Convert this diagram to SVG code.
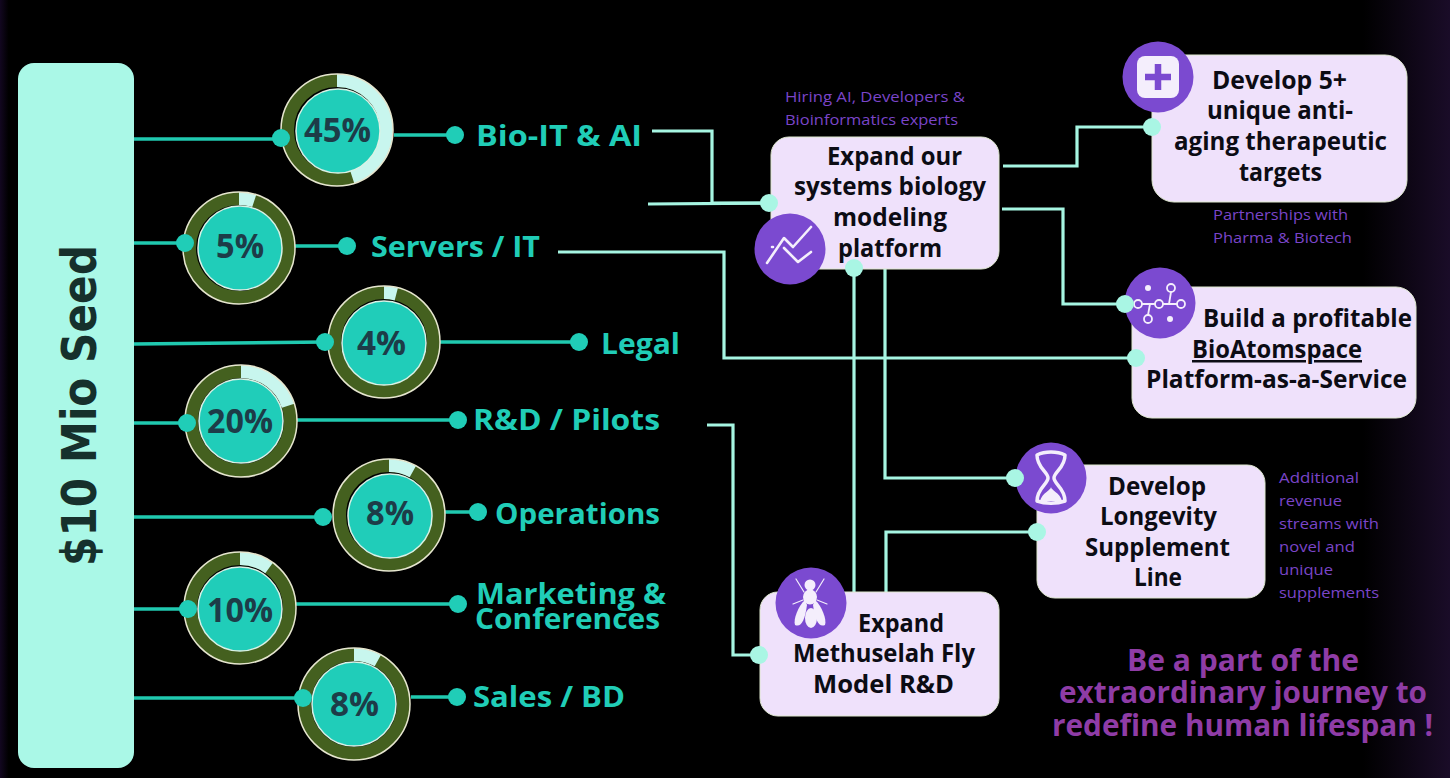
<svg xmlns="http://www.w3.org/2000/svg" width="1450" height="778" viewBox="0 0 1450 778">
<style>
text{font-family:"Open Sans","Noto Sans","Liberation Sans",sans-serif}
.lab{font-size:29px;font-weight:700;fill:#20cdb7}
.pct{font-size:34px;font-weight:700;fill:#1d3c48}
.card{fill:#efe1fb;stroke:#dfe8d0;stroke-width:1}
.t{font-size:25px;font-weight:700;fill:#0c0c14}
.note{font-size:15px;font-weight:400;fill:#7a45c8}
.cta{font-size:30px;font-weight:700;fill:#8f3ca6}
.ic{fill:#7b4ad0}
.base{fill:none;stroke:#44601f;stroke-width:13}
.rim{fill:none;stroke:#e6e6cf;stroke-width:1.5}
.wedge{fill:none;stroke:#c8f6ee;stroke-width:13}
.core{fill:#20cdb9;stroke:#d8f3e6;stroke-width:1.5}
.bl{fill:none;stroke:#20c9b0;stroke-width:3.5}
.ml{fill:none;stroke:#a6f5e2;stroke-width:3.2}
.bd{fill:#20cdb7}
.md{fill:#a9f6e4}
.w{fill:none;stroke:#f4eefc;stroke-width:2.6;stroke-linecap:round;stroke-linejoin:round}
.wf{fill:#f4eefc}
</style>
<defs>
<linearGradient id="bg" x1="0" y1="0" x2="1" y2="0">
<stop offset="0" stop-color="#120720"/><stop offset="0.006" stop-color="#000"/><stop offset="0.94" stop-color="#000"/><stop offset="1" stop-color="#1a0c28"/>
</linearGradient>
</defs>
<rect width="1450" height="778" fill="url(#bg)"/>

<g id="connectors">
<path class="bl" d="M134 139H281M394 135H455"/>
<path class="bl" d="M134 243H185M295 246H347"/>
<path class="bl" d="M134 344L325 342M440 342H579"/>
<path class="bl" d="M134 423H187M296 420H458"/>
<path class="bl" d="M134 517H323M445 512H478"/>
<path class="bl" d="M134 609H188M296 604H458"/>
<path class="bl" d="M134 698H303M411 697H457"/>
<path class="ml" d="M652 131H712V203H770"/>
<path class="ml" d="M648 204L770 203"/>
<path class="ml" d="M558 252H724V358H1136"/>
<path class="ml" d="M707 425H733V655H760"/>
<path class="ml" d="M854 268V592"/>
<path class="ml" d="M885 269V478H1015"/>
<path class="ml" d="M886 592V532H1037"/>
<path class="ml" d="M1003 166H1077V127H1152"/>
<path class="ml" d="M1002 209H1063V304H1125"/>
</g>

<g id="seed">
<rect x="18" y="63" width="116" height="705" rx="16" fill="#aaf8e7"/>
<text transform="translate(96 566) rotate(-90)" textLength="321" lengthAdjust="spacingAndGlyphs" style="font-family:'DejaVu Sans',sans-serif;font-size:48px;font-weight:700;fill:#16302c">$10 Mio Seed</text>
</g>

<g id="d45">
<circle class="base" cx="337" cy="130" r="49.5"/>
<circle class="wedge" cx="337" cy="130" r="49.5" pathLength="100" stroke-dasharray="45 55" transform="rotate(-90 337 130)"/>
<circle class="rim" cx="337" cy="130" r="56"/>
<circle class="core" cx="338" cy="131" r="42"/>
<text class="pct" x="304" y="142" textLength="67" lengthAdjust="spacingAndGlyphs">45%</text>
<circle class="bd" cx="281" cy="138" r="9"/><circle class="bd" cx="455" cy="135" r="9"/>
<text class="lab" x="476" y="146" textLength="166" lengthAdjust="spacingAndGlyphs">Bio-IT &amp; AI</text>
</g>
<g id="d5">
<circle class="base" cx="239" cy="248" r="49.5"/>
<circle class="wedge" cx="239" cy="248" r="49.5" pathLength="100" stroke-dasharray="5 95" transform="rotate(-90 239 248)"/>
<circle class="rim" cx="239" cy="248" r="56"/>
<circle class="core" cx="240" cy="248" r="42"/>
<text class="pct" x="216" y="258" textLength="48" lengthAdjust="spacingAndGlyphs">5%</text>
<circle class="bd" cx="185" cy="243" r="9"/><circle class="bd" cx="347" cy="246" r="9"/>
<text class="lab" x="371" y="257" textLength="169" lengthAdjust="spacingAndGlyphs">Servers / IT</text>
</g>
<g id="d4">
<circle class="base" cx="384" cy="342" r="49.5"/>
<path class="wedge" d="M384 292.5A49.5 49.5 0 0 1 396.3 294.1"/>
<circle class="rim" cx="384" cy="342" r="56"/>
<circle class="core" cx="384" cy="343" r="42"/>
<text class="pct" x="357" y="355" textLength="49" lengthAdjust="spacingAndGlyphs">4%</text>
<circle class="bd" cx="325" cy="342" r="9"/><circle class="bd" cx="579" cy="342" r="9"/>
<text class="lab" x="601" y="354" textLength="79" lengthAdjust="spacingAndGlyphs">Legal</text>
</g>
<g id="d20">
<circle class="base" cx="241" cy="421" r="49.5"/>
<circle class="wedge" cx="241" cy="421" r="49.5" pathLength="100" stroke-dasharray="20 80" transform="rotate(-90 241 421)"/>
<circle class="rim" cx="241" cy="421" r="56"/>
<circle class="core" cx="241" cy="421" r="42"/>
<text class="pct" x="207" y="433" textLength="66" lengthAdjust="spacingAndGlyphs">20%</text>
<circle class="bd" cx="187" cy="423" r="9"/><circle class="bd" cx="458" cy="420" r="9"/>
<text class="lab" x="473" y="430" textLength="187" lengthAdjust="spacingAndGlyphs">R&amp;D / Pilots</text>
</g>
<g id="d8a">
<circle class="base" cx="389" cy="515" r="49.5"/>
<circle class="wedge" cx="389" cy="515" r="49.5" pathLength="100" stroke-dasharray="8 92" transform="rotate(-90 389 515)"/>
<circle class="rim" cx="389" cy="515" r="56"/>
<circle class="core" cx="390" cy="516" r="42"/>
<text class="pct" x="366" y="525" textLength="48" lengthAdjust="spacingAndGlyphs">8%</text>
<circle class="bd" cx="323" cy="517" r="9"/><circle class="bd" cx="478" cy="512" r="9"/>
<text class="lab" x="495" y="524" textLength="165" lengthAdjust="spacingAndGlyphs">Operations</text>
</g>
<g id="d10">
<circle class="base" cx="240" cy="608" r="49.5"/>
<circle class="wedge" cx="240" cy="608" r="49.5" pathLength="100" stroke-dasharray="10 90" transform="rotate(-90 240 608)"/>
<circle class="rim" cx="240" cy="608" r="56"/>
<circle class="core" cx="240" cy="609" r="42"/>
<text class="pct" x="207" y="622" textLength="66" lengthAdjust="spacingAndGlyphs">10%</text>
<circle class="bd" cx="188" cy="609" r="9"/><circle class="bd" cx="458" cy="604" r="9"/>
<text class="lab" x="476" y="604" textLength="190" lengthAdjust="spacingAndGlyphs">Marketing &amp;</text>
<text class="lab" x="475" y="629" textLength="185" lengthAdjust="spacingAndGlyphs">Conferences</text>
</g>
<g id="d8b">
<circle class="base" cx="354" cy="704" r="49.5"/>
<circle class="wedge" cx="354" cy="704" r="49.5" pathLength="100" stroke-dasharray="8 92" transform="rotate(-90 354 704)"/>
<circle class="rim" cx="354" cy="704" r="56"/>
<circle class="core" cx="354" cy="704" r="42"/>
<text class="pct" x="330" y="716" textLength="49" lengthAdjust="spacingAndGlyphs">8%</text>
<circle class="bd" cx="303" cy="698" r="9"/><circle class="bd" cx="457" cy="697" r="9"/>
<text class="lab" x="473" y="707" textLength="152" lengthAdjust="spacingAndGlyphs">Sales / BD</text>
</g>

<g id="platform">
<rect class="card" x="771" y="137" width="228" height="132" rx="18"/>
<text class="t" x="827" y="165" textLength="135" lengthAdjust="spacingAndGlyphs">Expand our</text>
<text class="t" x="794" y="195" textLength="192" lengthAdjust="spacingAndGlyphs">systems biology</text>
<text class="t" x="833" y="226" textLength="114" lengthAdjust="spacingAndGlyphs">modeling</text>
<text class="t" x="838" y="257" textLength="104" lengthAdjust="spacingAndGlyphs">platform</text>
<circle class="ic" cx="790" cy="249" r="35.5"/>
<path class="w" d="M767 263L784 238L793 247L811 227M784 248L798 262L811 252M772 247h1"/>
<circle class="md" cx="769" cy="203" r="9"/>
<circle class="md" cx="854" cy="268" r="9"/>
<text class="note" x="785" y="102" textLength="180" lengthAdjust="spacingAndGlyphs">Hiring AI, Developers &amp;</text>
<text class="note" x="785" y="125" textLength="173" lengthAdjust="spacingAndGlyphs">Bioinformatics experts</text>
</g>

<g id="targets">
<rect class="card" x="1152" y="55" width="255" height="147" rx="22"/>
<text class="t" x="1212" y="89" textLength="135" lengthAdjust="spacingAndGlyphs">Develop 5+</text>
<text class="t" x="1207" y="119" textLength="146" lengthAdjust="spacingAndGlyphs">unique anti-</text>
<text class="t" x="1174" y="150" textLength="213" lengthAdjust="spacingAndGlyphs">aging therapeutic</text>
<text class="t" x="1239" y="181" textLength="83" lengthAdjust="spacingAndGlyphs">targets</text>
<circle class="ic" cx="1158" cy="77" r="35.5"/>
<rect x="1137" y="56" width="42" height="42" rx="8" class="wf"/>
<path d="M1158 64V90M1145 77H1171" fill="none" stroke="#7b4ad0" stroke-width="6.5"/>
<circle class="md" cx="1152" cy="127" r="9"/>
<text class="note" x="1213" y="220" textLength="135" lengthAdjust="spacingAndGlyphs">Partnerships with</text>
<text class="note" x="1213" y="243" textLength="139" lengthAdjust="spacingAndGlyphs">Pharma &amp; Biotech</text>
</g>

<g id="bioatomspace">
<rect class="card" x="1132" y="287" width="284" height="131" rx="20"/>
<text class="t" x="1203" y="327" textLength="209" lengthAdjust="spacingAndGlyphs">Build a profitable</text>
<text class="t" x="1192" y="358" textLength="170" lengthAdjust="spacingAndGlyphs" text-decoration="underline">BioAtomspace</text>
<text class="t" x="1146" y="388" textLength="261" lengthAdjust="spacingAndGlyphs">Platform-as-a-Service</text>
<circle class="ic" cx="1160" cy="303" r="35.5"/>
<g class="w" style="stroke-width:1.8">
<circle cx="1138" cy="304" r="4"/><circle cx="1159" cy="304" r="4"/><circle cx="1181" cy="304" r="4"/><circle cx="1171" cy="288" r="4"/><circle cx="1148" cy="319" r="4"/>
<path d="M1142 304H1155M1163 304H1177M1171 292L1169 304M1148 315L1150 304"/>
</g>
<circle class="wf" cx="1148" cy="288" r="3"/><circle class="wf" cx="1170" cy="319" r="3"/>
<circle class="md" cx="1125" cy="304" r="9"/>
<circle class="md" cx="1136" cy="358" r="9"/>
</g>

<g id="supplement">
<rect class="card" x="1037" y="465" width="228" height="133" rx="18"/>
<text class="t" x="1108" y="495" textLength="98" lengthAdjust="spacingAndGlyphs">Develop</text>
<text class="t" x="1100" y="525" textLength="117" lengthAdjust="spacingAndGlyphs">Longevity</text>
<text class="t" x="1085" y="556" textLength="145" lengthAdjust="spacingAndGlyphs">Supplement</text>
<text class="t" x="1134" y="586" textLength="48" lengthAdjust="spacingAndGlyphs">Line</text>
<circle class="ic" cx="1051" cy="478" r="35.5"/>
<path class="w" style="stroke-width:3.5" d="M1037 455C1037 468 1048 472 1048 478C1048 484 1037 488 1037 501C1045 504 1057 504 1065 501C1065 488 1054 484 1054 478C1054 472 1065 468 1065 455C1057 451 1045 451 1037 455Z"/>
<path class="wf" d="M1040 501C1042 493 1051 490 1051 487C1051 490 1060 493 1062 501Z"/>
<circle class="md" cx="1015" cy="478" r="9"/>
<circle class="md" cx="1037" cy="532" r="9"/>
<text class="note" x="1279" y="483" textLength="80" lengthAdjust="spacingAndGlyphs">Additional</text>
<text class="note" x="1279" y="506" textLength="63" lengthAdjust="spacingAndGlyphs">revenue</text>
<text class="note" x="1279" y="529" textLength="100" lengthAdjust="spacingAndGlyphs">streams with</text>
<text class="note" x="1279" y="552" textLength="76" lengthAdjust="spacingAndGlyphs">novel and</text>
<text class="note" x="1279" y="575" textLength="54" lengthAdjust="spacingAndGlyphs">unique</text>
<text class="note" x="1279" y="598" textLength="100" lengthAdjust="spacingAndGlyphs">supplements</text>
</g>

<g id="fly">
<rect class="card" x="760" y="592" width="239" height="124" rx="18"/>
<text class="t" x="858" y="632" textLength="86" lengthAdjust="spacingAndGlyphs">Expand</text>
<text class="t" x="793" y="662" textLength="182" lengthAdjust="spacingAndGlyphs">Methuselah Fly</text>
<text class="t" x="813" y="693" textLength="141" lengthAdjust="spacingAndGlyphs">Model R&amp;D</text>
<circle class="ic" cx="811" cy="603" r="35.5"/>
<g class="wf">
<circle cx="810" cy="585" r="5.5"/>
<ellipse cx="810" cy="597" rx="7" ry="7.5"/>
<ellipse cx="811" cy="618" rx="6" ry="10"/>
<path d="M805 600C798 606 793 620 795 625C801 628 805 620 807 605Z"/>
<path d="M815 600C822 606 827 620 825 625C819 628 815 620 813 605Z"/>
</g>
<path class="w" style="stroke-width:1.2" d="M804 592L796 579M816 592L824 579M803 600L793 604M817 600L827 604"/>
<circle class="md" cx="759" cy="655" r="9"/>
</g>

<g id="cta">
<text class="cta" x="1127" y="671" textLength="232" lengthAdjust="spacingAndGlyphs">Be a part of the</text>
<text class="cta" x="1059" y="703" textLength="368" lengthAdjust="spacingAndGlyphs">extraordinary journey to</text>
<text class="cta" x="1052" y="736" textLength="381" lengthAdjust="spacingAndGlyphs">redefine human lifespan !</text>
</g>
</svg>
